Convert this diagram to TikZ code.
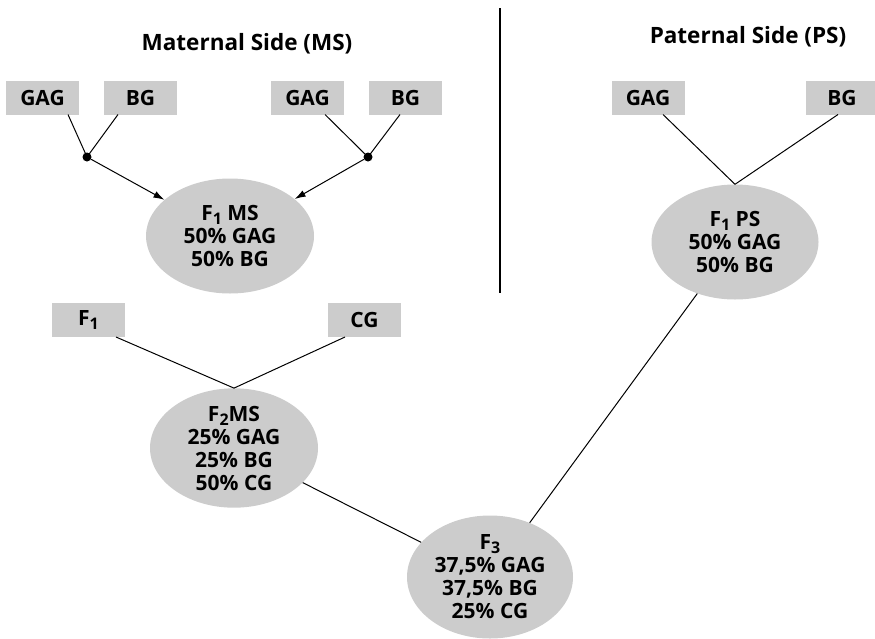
\documentclass[tikz,border=0pt]{standalone}
\usepackage{fontspec}
\setmainfont{Open Sans}
\usetikzlibrary{shapes.geometric,arrows.meta}
\newcommand{\sbs}[1]{\raisebox{-0.35ex}{\fontsize{16}{16}\selectfont #1}}
\begin{document}
\begin{tikzpicture}[x=1pt,y=-1pt,
  font=\fontsize{21}{23}\selectfont\bfseries,
  ttl/.style={font=\fontsize{22.5}{24}\selectfont\bfseries},
  gbox/.style={fill=black!20,minimum width=73pt,minimum height=34pt,inner sep=0pt},
  gell/.style={ellipse,fill=black!20,inner sep=0pt,align=center},
  ln/.style={line width=1pt},
  arr/.style={ln,-{Latex[length=11pt,width=7pt]}},
  dotn/.style={circle,fill=black,inner sep=0pt,minimum size=9pt}]
\useasboundingbox (0,0) rectangle (875,638);
\node[ttl] (tms) at (247,44) {Maternal Side (MS)};
\node[ttl] (tps) at (748,37) {Paternal Side (PS)};
\coordinate (vt) at (500,8);
\coordinate (vb) at (500,293);
\draw[line width=2pt] (vt) -- (vb);
% maternal
\node[gbox] (g1) at (42.5,97.5) {GAG};
\node[gbox] (b1) at (140.5,97.5) {BG};
\node[gbox] (g2) at (307.5,97.5) {GAG};
\node[gbox] (b2) at (405.5,97.5) {BG};
\node[dotn] (d1) at (87,157) {};
\node[dotn] (d2) at (368,157) {};
\node[gell,minimum width=168pt,minimum height=115pt] (f1ms) at (230,236) {F\sbs{1} MS\\50\% GAG\\50\% BG};
\draw[ln] (68,114.5) -- (d1.center);
\draw[ln] (118,114.5) -- (d1.center);
\draw[ln] (325,114.5) -- (d2.center);
\draw[ln] (400,114.5) -- (d2.center);
\draw[arr] (d1) -- (f1ms);
\draw[arr] (d2) -- (f1ms);
% paternal
\node[gbox] (g3) at (648,97.5) {GAG};
\node[gbox] (b3) at (842,97.5) {BG};
\node[gell,minimum width=167pt,minimum height=115pt] (f1ps) at (735,242) {F\sbs{1} PS\\50\% GAG\\50\% BG};
\draw[ln] (663,114.5) -- (f1ps.north);
\draw[ln] (838,114.5) -- (f1ps.north);
% F2
\node[gbox] (f1b) at (88.5,320) {F\sbs{1}};
\node[gbox] (cg) at (364.5,320) {CG};
\node[gell,minimum width=168pt,minimum height=116pt] (f2ms) at (234,448) {F\sbs{2}MS\\25\% GAG\\25\% BG\\50\% CG};
\draw[ln] (116,337) -- (f2ms.north);
\draw[ln] (345,337) -- (f2ms.north);
% F3
\node[gell,minimum width=166pt,minimum height=123pt] (f3) at (490,577) {F\sbs{3}\\37,5\% GAG\\37,5\% BG\\25\% CG};
\draw[ln] (f2ms) -- (f3);
\draw[ln] (f1ps) -- (f3);
\end{tikzpicture}
\end{document}
